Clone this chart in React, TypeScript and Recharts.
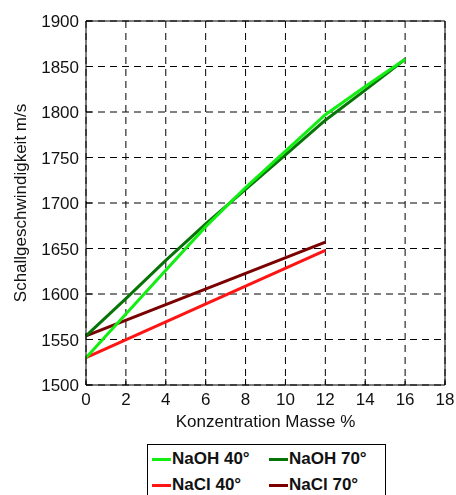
import React from 'react';
import { LineChart, Line, XAxis, YAxis, CartesianGrid, Legend, ReferenceLine } from 'recharts';

const naohX = [0, 2, 4, 6, 8, 10, 12, 14, 16];
const naoh40 = [1530, 1578, 1626, 1674, 1717, 1757, 1797, 1828, 1858];
const naoh70 = [1554, 1595, 1637, 1677, 1715, 1753, 1791, 1824, 1858];
const naclX = [0, 12];
const nacl40 = [1530, 1648];
const nacl70 = [1554, 1657];
const xTicks = [0, 2, 4, 6, 8, 10, 12, 14, 16, 18];
const yTicks = [1500, 1550, 1600, 1650, 1700, 1750, 1800, 1850, 1900];

const toRows = (xs: number[], ys: number[]) => xs.map((x, i) => ({ x, y: ys[i] }));

const series = [
  { name: 'NaOH 40°', color: '#12ee12', data: toRows(naohX, naoh40) },
  { name: 'NaOH 70°', color: '#077407', data: toRows(naohX, naoh70) },
  { name: 'NaCl 40°', color: '#ff1414', data: toRows(naclX, nacl40) },
  { name: 'NaCl 70°', color: '#7a0000', data: toRows(naclX, nacl70) },
];
// draw order: light green on top
const drawOrder = [3, 2, 1, 0];

const font = '"Liberation Sans", Arial, sans-serif';

const XTick = (props: any) => {
  const { x, y, payload } = props;
  return (
    <g>
      <line x1={x} x2={x} y1={y - 8} y2={y - 14} stroke="#000" strokeWidth={1} />
      <text x={x} y={y} dy="0.71em" textAnchor="middle" fontSize={17} fill="#111" fontFamily={font}>
        {payload.value}
      </text>
    </g>
  );
};

const YTick = (props: any) => {
  const { x, y, payload } = props;
  return (
    <g>
      <line x1={x + 7} x2={x + 13} y1={y} y2={y} stroke="#000" strokeWidth={1} />
      <text x={x} y={y} dy="0.355em" textAnchor="end" fontSize={17} fill="#111" fontFamily={font}>
        {payload.value}
      </text>
    </g>
  );
};

const YLabel = (props: any) => {
  const vb = props.viewBox || { y: 13, height: 364 };
  const cy = vb.y + vb.height / 2;
  return (
    <text
      x={12}
      y={cy}
      transform={`rotate(-90, 12, ${cy})`}
      textAnchor="middle"
      dominantBaseline="central"
      fontSize={17}
      fill="#111"
      fontFamily={font}
    >
      Schallgeschwindigkeit m/s
    </text>
  );
};

const LegendBox = () => (
  <div
    style={{
      border: '1px solid #000',
      width: 239,
      height: 56,
      boxSizing: 'border-box',
      display: 'grid',
      gridTemplateColumns: '117px 117px',
      gridAutoRows: '26px',
      paddingTop: 1,
      paddingLeft: 4,
      fontFamily: font,
      fontWeight: 'bold',
      fontSize: 17,
      color: '#111',
      background: '#fff',
    }}
  >
    {series.map((s) => (
      <div key={s.name} style={{ display: 'flex', alignItems: 'center', whiteSpace: 'nowrap' }}>
        <span style={{ display: 'inline-block', width: 19, height: 3, background: s.color, marginRight: 1 }} />
        {s.name}
      </div>
    ))}
  </div>
);

export default function App() {
  return (
    <>
      <style>{'html,body{overflow:hidden;}'}</style>
      <div style={{ position: 'fixed', top: 8, left: 8, width: 448, height: 487, overflow: 'hidden' }}>
        <LineChart width={448} height={487} margin={{ top: 13, right: 11, left: 0, bottom: 65 }}>
          <CartesianGrid stroke="#000" strokeDasharray="7 5" strokeWidth={1} />
          <XAxis
            dataKey="x"
            type="number"
            domain={[0, 18]}
            ticks={xTicks}
            allowDuplicatedCategory={false}
            height={45}
            tickSize={0}
            tickMargin={8}
            tick={<XTick />}
            axisLine={{ stroke: '#000' }}
            label={{
              value: 'Konzentration Masse %',
              position: 'insideBottom',
              offset: 3,
              fontSize: 17,
              fill: '#111',
              fontFamily: font,
            }}
          />
          <YAxis
            dataKey="y"
            type="number"
            domain={[1500, 1900]}
            ticks={yTicks}
            width={78}
            tickSize={0}
            tickMargin={7}
            tick={<YTick />}
            axisLine={{ stroke: '#000' }}
            label={<YLabel />}
          />
          <ReferenceLine y={1900} stroke="#000" strokeWidth={1} />
          <ReferenceLine x={18} stroke="#000" strokeWidth={1} />
          {drawOrder.map((i) => (
            <Line
              key={series[i].name}
              data={series[i].data}
              dataKey="y"
              name={series[i].name}
              stroke={series[i].color}
              strokeWidth={3}
              dot={false}
              isAnimationActive={false}
              type="linear"
            />
          ))}
          <Legend
            verticalAlign="middle"
            align="center"
            layout="horizontal"
            content={<LegendBox />}
            wrapperStyle={{ top: 436, left: 139, width: 239 }}
          />
        </LineChart>
      </div>
    </>
  );
}
